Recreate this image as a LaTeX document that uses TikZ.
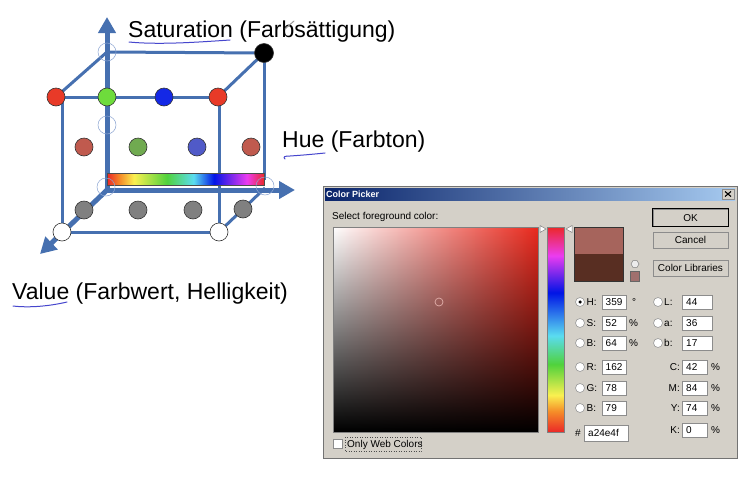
\documentclass[tikz,border=0pt]{standalone}
\usepackage{fontspec}
\setmainfont{Liberation Sans}
\usetikzlibrary{arrows.meta,fadings,shapes.geometric}
\definecolor{cubeblue}{RGB}{70,112,176}
\definecolor{openblue}{RGB}{140,165,210}
\definecolor{penblue}{RGB}{70,70,205}
\definecolor{dred}{RGB}{232,58,40}
\definecolor{dgreen}{RGB}{110,220,60}
\definecolor{dblue}{RGB}{20,40,230}
\definecolor{mred}{RGB}{192,90,78}
\definecolor{mgreen}{RGB}{112,170,80}
\definecolor{mblue}{RGB}{80,90,200}
\definecolor{dgray}{RGB}{128,128,128}
\definecolor{dlggray}{RGB}{212,208,200}
\definecolor{titledark}{RGB}{10,36,106}
\definecolor{titlelight}{RGB}{166,202,240}
\definecolor{pickred}{RGB}{234,42,30}
\definecolor{newcol}{RGB}{166,100,92}
\definecolor{oldcol}{RGB}{88,46,34}
\definecolor{smallsw}{RGB}{160,112,110}
\definecolor{rbR}{RGB}{235,40,40}
\definecolor{rbO}{RGB}{245,140,40}
\definecolor{rbY}{RGB}{250,240,80}
\definecolor{rbG}{RGB}{80,210,60}
\definecolor{rbC}{RGB}{90,220,240}
\definecolor{rbB}{RGB}{0,20,230}
\definecolor{rbM}{RGB}{235,60,240}
\pgfdeclarehorizontalshading{rainbowh}{100bp}{color(0bp)=(rbR); color(25bp)=(rbR); color(29bp)=(rbO); color(33.5bp)=(rbY); color(44bp)=(rbG); color(52.5bp)=(rbC); color(59bp)=(rbB); color(69.5bp)=(rbM); color(75bp)=(rbR); color(100bp)=(rbR)}
\pgfdeclareverticalshading{huev}{100bp}{color(0bp)=(rbR); color(25bp)=(rbR); color(30bp)=(rbO); color(34bp)=(rbY); color(41.5bp)=(rbG); color(48.5bp)=(rbC); color(59bp)=(rbB); color(68bp)=(rbM); color(75bp)=(rbR); color(100bp)=(rbR)}
\tikzset{
  dot/.style={circle, inner sep=0pt, minimum size=18pt, draw=black!80, line width=0.6pt},
  opendot/.style={circle, inner sep=0pt, minimum size=18pt, draw=openblue, line width=0.5pt},
  edge/.style={draw=cubeblue, line width=3pt},
  axis/.style={draw=cubeblue, line width=5pt, -{Triangle[length=16pt,width=17pt]}},
  lbl/.style={anchor=base west, inner sep=0pt, font=\fontsize{23}{27}\selectfont},
  pen/.style={draw=penblue, line width=1pt, line cap=round},
  dlgtxt/.style={font=\fontsize{10}{12}\selectfont, inner sep=0pt, text height=7.2pt, text depth=0pt},
  field/.style={draw=black!45, fill=white, line width=0.6pt, inner sep=0pt, minimum height=14pt},
  btn/.style={draw=black!45, fill=dlggray, line width=0.8pt},
  radio/.style={circle, draw=black!40, fill=white, minimum size=9pt, inner sep=0pt, line width=0.6pt}
}
\begin{document}
\begin{tikzpicture}[x=1pt,y=-1pt]
\useasboundingbox (0,0) rectangle (754,480);
\fill[white] (0,0) rectangle (754,480);
% ---------- cube coordinates ----------
\coordinate (O) at (107,190);
\coordinate (SatTip) at (107,17);
\coordinate (HueTip) at (295,190);
\coordinate (ValTip) at (40,254);
\coordinate (pBTL) at (107,52);
\coordinate (pBTR) at (264,53);
\coordinate (pBBR) at (265,188);
\coordinate (pFTL) at (56,97);
\coordinate (pFTLv) at (62,97);
\coordinate (pFTR) at (218,97);
\coordinate (pFTRv) at (219,97);
\coordinate (pFBL) at (62,232);
\coordinate (pFBR) at (219,232);
% ---------- edges ----------
\draw[edge] (pBTL) -- (pBTR);
\draw[edge] (pBTR) -- (264,180);
\draw[edge] (pFTL) -- (pBTL);
\draw[edge] (pFTR) -- (pBTR);
\draw[edge] (pFTL) -- (pFTR);
\draw[edge] (pFTLv) -- (pFBL);
\draw[edge] (pFTRv) -- (pFBR);
\draw[edge] (pFBL) -- (pFBR);
\draw[edge] (pFBR) -- (pBBR);
% ---------- axes ----------
\draw[axis] (O) -- (SatTip);
\draw[axis] (O) -- (HueTip);
\draw[axis] (O) -- (ValTip);
% ---------- rainbow bar ----------
\node[shading=rainbowh, draw=black!70, line width=0.6pt, inner sep=0pt, minimum width=157pt, minimum height=12pt, anchor=north west] (bar) at (107,173) {};
% ---------- open circles ----------
\node[opendot] (o1) at (107,52) {};
\node[opendot] (o2) at (107,125) {};
\node[opendot] (o3) at (106,187) {};
\node[opendot] (o4) at (265,186) {};
% ---------- dots ----------
\node[dot, fill=dred] (ftl) at (pFTL) {};
\node[dot, fill=dgreen] (g1) at (107,97) {};
\node[dot, fill=dblue] (b1) at (164,97) {};
\node[dot, fill=dred] (ftr) at (pFTR) {};
\node[dot, fill=black, minimum size=19pt] (btr) at (pBTR) {};
\node[dot, fill=mred] (m1) at (84,147) {};
\node[dot, fill=mgreen] (m2) at (138,147) {};
\node[dot, fill=mblue] (m3) at (197,147) {};
\node[dot, fill=mred] (m4) at (251,147) {};
\node[dot, fill=dgray] (k1) at (84,210) {};
\node[dot, fill=dgray] (k2) at (138,210) {};
\node[dot, fill=dgray] (k3) at (193,210) {};
\node[dot, fill=dgray] (k4) at (243,209) {};
\node[dot, fill=white] (fbl) at (pFBL) {};
\node[dot, fill=white] (fbr) at (pFBR) {};
% ---------- labels ----------
\node[lbl] (sat) at (128,37.5) {Saturation (Farbsättigung)};
\node[lbl] (hue) at (282,147) {Hue (Farbton)};
\node[lbl] (val) at (12,299) {Value (Farbwert, Helligkeit)};
\draw[pen] (129,42) .. controls (160,45) and (200,42) .. (230,40);
\draw[pen] (285,159) .. controls (283,157) and (284,156) .. (290,156) .. controls (305,155) and (315,154) .. (325,153);
\draw[pen] (13,306) .. controls (30,308) and (50,306) .. (67,302);
\draw[draw=black!40, line width=1pt, line cap=round] (285,29) -- (294,21);
% ---------- dialog ----------
\fill[dlggray, draw=black!55, line width=0.8pt] (323,186) rectangle (737,458);
\shade[left color=titledark, right color=titlelight] (325,188) rectangle (735,200.5);
\node[anchor=west, inner sep=0pt, text=white, font=\bfseries\fontsize{9}{10}\selectfont] (title) at (326,194) {Color Picker};
\node[btn, minimum width=12pt, minimum height=10pt, inner sep=0pt, anchor=center] (close) at (728,194) {};
\draw[line width=1.1pt] ([shift={(-3,-2.5)}]close.center) -- ([shift={(3,2.5)}]close.center);
\draw[line width=1.1pt] ([shift={(-3,2.5)}]close.center) -- ([shift={(3,-2.5)}]close.center);
\node[dlgtxt, anchor=west] (selfg) at (332,216) {Select foreground color:};
% colour field
\shade[left color=white, right color=pickred] (333,227) rectangle (538,432);
\fill[black, path fading=north] (333,227) rectangle (538,432);
\draw[black!50, line width=0.8pt] (333,227) rectangle (538,432);
\node[circle, draw={rgb,255:red,225;green,175;blue,170}, line width=0.7pt, minimum size=8pt, inner sep=0pt] (marker) at (439,302) {};
% hue slider
\shade[shading=huev] (547,227) rectangle (564,432);
\draw[black!50, line width=0.8pt] (547,227) rectangle (564,432);
\draw[fill=white, draw=black!50, line width=0.5pt] (540,225.5) -- (546,229) -- (540,232.5) -- cycle;
\draw[fill=white, draw=black!50, line width=0.5pt] (572,225.5) -- (566,229) -- (572,232.5) -- cycle;
% swatches
\fill[newcol] (574,227) rectangle (623,254);
\fill[oldcol] (574,254) rectangle (623,281);
\draw[black!80, line width=0.7pt] (574,227) rectangle (623,281);
\node[regular polygon, regular polygon sides=6, draw=black!50, fill=white!85!gray, minimum size=8pt, inner sep=0pt, line width=0.5pt] (cube) at (635,264) {};
\fill[smallsw, draw=black!60, line width=0.5pt] (630,271) rectangle (639,281);
% buttons
\draw[btn] (653,209) rectangle (728,226);
\draw[black, line width=0.8pt] (652.5,208.5) rectangle (728.5,226.5);
\node[dlgtxt] (ok) at (690.5,217.5) {OK};
\draw[btn] (653,232) rectangle (728,248);
\node[dlgtxt] (cancel) at (690.5,240) {Cancel};
\draw[btn] (653,260) rectangle (728,276);
\node[dlgtxt] (libs) at (690.5,268) {Color Libraries};
% left column fields
\foreach \n/\l/\v/\y in {h/H/359/302, s/S/52/323, bb/B/64/343, r/R/162/367, g/G/78/388, b/B/79/408}{
  \node[radio] (rad\n) at (580,\y) {};
  \node[dlgtxt, anchor=west] (lab\n) at (586.5,\y) {\l:};
  \node[field, minimum width=24pt, anchor=west] (box\n) at (602,\y) {};
  \node[dlgtxt, anchor=west] (val\n) at (605.5,\y) {\v};
}
\node[circle, fill=black, minimum size=3.5pt, inner sep=0pt] (radsel) at (radh.center) {};
\node[dlgtxt, anchor=west] (degree) at (632,302) {°};
\node[dlgtxt, anchor=west] (pcs) at (629,323) {\%};
\node[dlgtxt, anchor=west] (pcb) at (629,343) {\%};
% right column fields
\foreach \n/\l/\v/\y in {l/L/44/302, a/a/36/323, lb/b/17/343}{
  \node[radio] (rad\n) at (658,\y) {};
  \node[dlgtxt, anchor=west] (lab\n) at (664,\y) {\l:};
  \node[field, minimum width=30pt, anchor=west] (box\n) at (682,\y) {};
  \node[dlgtxt, anchor=west] (val\n) at (686,\y) {\v};
}
\foreach \n/\l/\v/\y in {c/C/42/367, m/M/84/388, yy/Y/74/408, k/K/0/430}{
  \node[dlgtxt, anchor=east] (lab\n) at (680,\y) {\l:};
  \node[field, minimum width=25pt, anchor=west] (box\n) at (682,\y) {};
  \node[dlgtxt, anchor=west] (val\n) at (686,\y) {\v};
  \node[dlgtxt, anchor=west] (pc\n) at (711,\y) {\%};
}
% hex
\node[dlgtxt, anchor=west] (hash) at (575,433) {\#};
\node[field, minimum width=44pt, minimum height=16pt, anchor=west] (boxhex) at (584,433) {};
\node[dlgtxt, anchor=west] (valhex) at (588,433) {a24e4f};
% only web colors
\draw[fill=white, draw=black!45, line width=0.6pt] (333.5,439.5) rectangle (342.5,448.5);
\node[dlgtxt, anchor=west] (web) at (347,444) {Only Web Colors};
\draw[black!70, line width=0.5pt, dotted] (345,437) rectangle (421,451);
\end{tikzpicture}
\end{document}
